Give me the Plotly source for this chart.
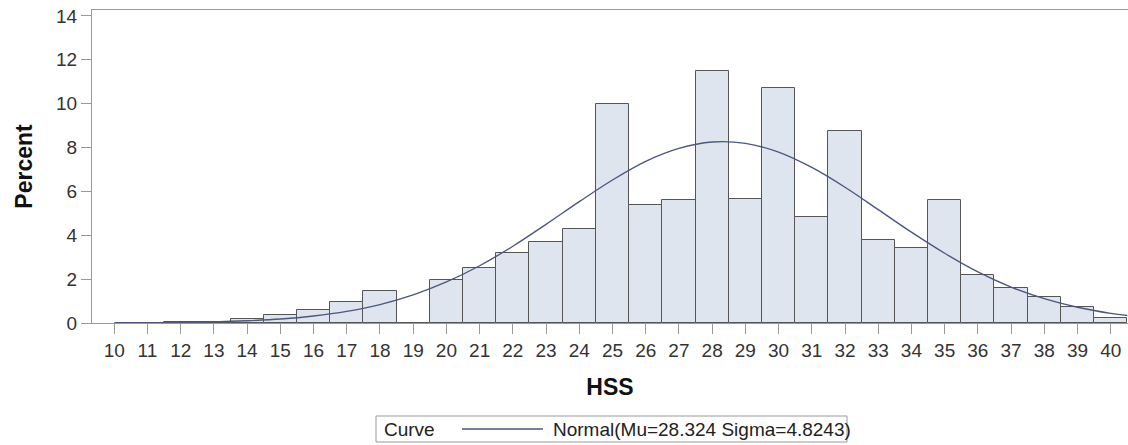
import plotly.graph_objects as go

# histogram of HSS, percent per bin (bin width 1, centred on integers)
bin_mid = [12, 13, 14, 15, 16, 17, 18, 19, 20, 21, 22, 23, 24, 25, 26,
           27, 28, 29, 30, 31, 32, 33, 34, 35, 36, 37, 38, 39, 40]
pct = [0.05, 0.05, 0.18, 0.37, 0.60, 0.95, 1.47, 0, 1.94, 2.53, 3.18, 3.69,
       4.29, 9.98, 5.40, 5.59, 11.47, 5.65, 10.70, 4.82, 8.76, 3.77, 3.42,
       5.59, 2.17, 1.59, 1.18, 0.72, 0.21]

# fitted normal curve
curve_x = [10, 11, 12, 13, 14, 15, 16, 17, 18, 19, 20, 21, 22, 23, 24, 25,
           26, 27, 28, 29, 30, 31, 32, 33, 34, 35, 36, 37, 38, 39, 40, 40.5]
curve_y = [0.01, 0.01, 0.03, 0.05, 0.10, 0.18, 0.32, 0.53, 0.84, 1.28, 1.87,
           2.61, 3.50, 4.50, 5.53, 6.52, 7.37, 7.96, 8.25, 8.19, 7.79, 7.09,
           6.19, 5.17, 4.14, 3.18, 2.33, 1.64, 1.11, 0.72, 0.44, 0.34]

x_ticks = list(range(10, 41))
y_ticks = [0, 2, 4, 6, 8, 10, 12, 14]
curve_label = "Normal(Mu=28.324 Sigma=4.8243)"

FONT = "Liberation Sans, Arial, sans-serif"
L, R, T, B = 92, 0, 10, 122
W, H = 1128, 445
PW, PH = W - L - R, H - T - B


def px(x):
    return (x - L) / PW


def py(y):
    return (H - B - y) / PH


fig = go.Figure()
fig.add_trace(go.Bar(x=bin_mid, y=pct, width=1,
                     marker=dict(color="#dfe5ef", line=dict(color="#555555", width=1)),
                     showlegend=False))
fig.add_trace(go.Scatter(x=curve_x, y=curve_y, mode="lines",
                         line=dict(color="#4b5780", width=1.4, shape="spline"),
                         showlegend=False))

axis_common = dict(ticks="outside", ticklen=10, tickcolor="#999999",
                   showline=True, linecolor="#999999", mirror=True,
                   showgrid=False, zeroline=False, automargin=False,
                   tickfont=dict(size=19, color="#333333"))

fig.update_layout(
    template="none",
    width=W, height=H,
    margin=dict(l=L, r=R, t=T, b=B, autoexpand=False),
    plot_bgcolor="white", paper_bgcolor="white",
    font=dict(family=FONT, color="#333333", size=19),
    bargap=0, showlegend=False,
    xaxis=dict(range=[9.33, 40.52], tickvals=x_ticks, **axis_common,
               title=dict(text="<b>HSS</b>", font=dict(size=23, color="#111111"), standoff=19)),
    yaxis=dict(range=[0, 14.27], tickvals=y_ticks, **axis_common,
               title=dict(text="<b>Percent</b>", font=dict(size=23, color="#111111"), standoff=17)),
)

# legend box drawn by hand (SAS style: label, long line sample, entry text)
fig.add_shape(type="rect", xref="paper", yref="paper",
              x0=px(376), x1=px(847), y0=py(442), y1=py(416),
              line=dict(color="#999999", width=1), fillcolor="white")
fig.add_shape(type="line", xref="paper", yref="paper",
              x0=px(462), x1=px(543), y0=py(429), y1=py(429),
              line=dict(color="#4b5780", width=1.4))
fig.add_annotation(text="Curve", xref="paper", yref="paper", x=px(382), y=py(429),
                   xanchor="left", yanchor="middle", showarrow=False,
                   font=dict(size=19, color="#222222"))
fig.add_annotation(text=curve_label, xref="paper", yref="paper", x=px(551), y=py(429),
                   xanchor="left", yanchor="middle", showarrow=False,
                   font=dict(size=19, color="#222222"))

# page body has a default 8px margin; drop it so the figure sits at 0,0
fig.write_html("out.html", config={"displayModeBar": False},
               post_script="document.body.style.margin='0';")
